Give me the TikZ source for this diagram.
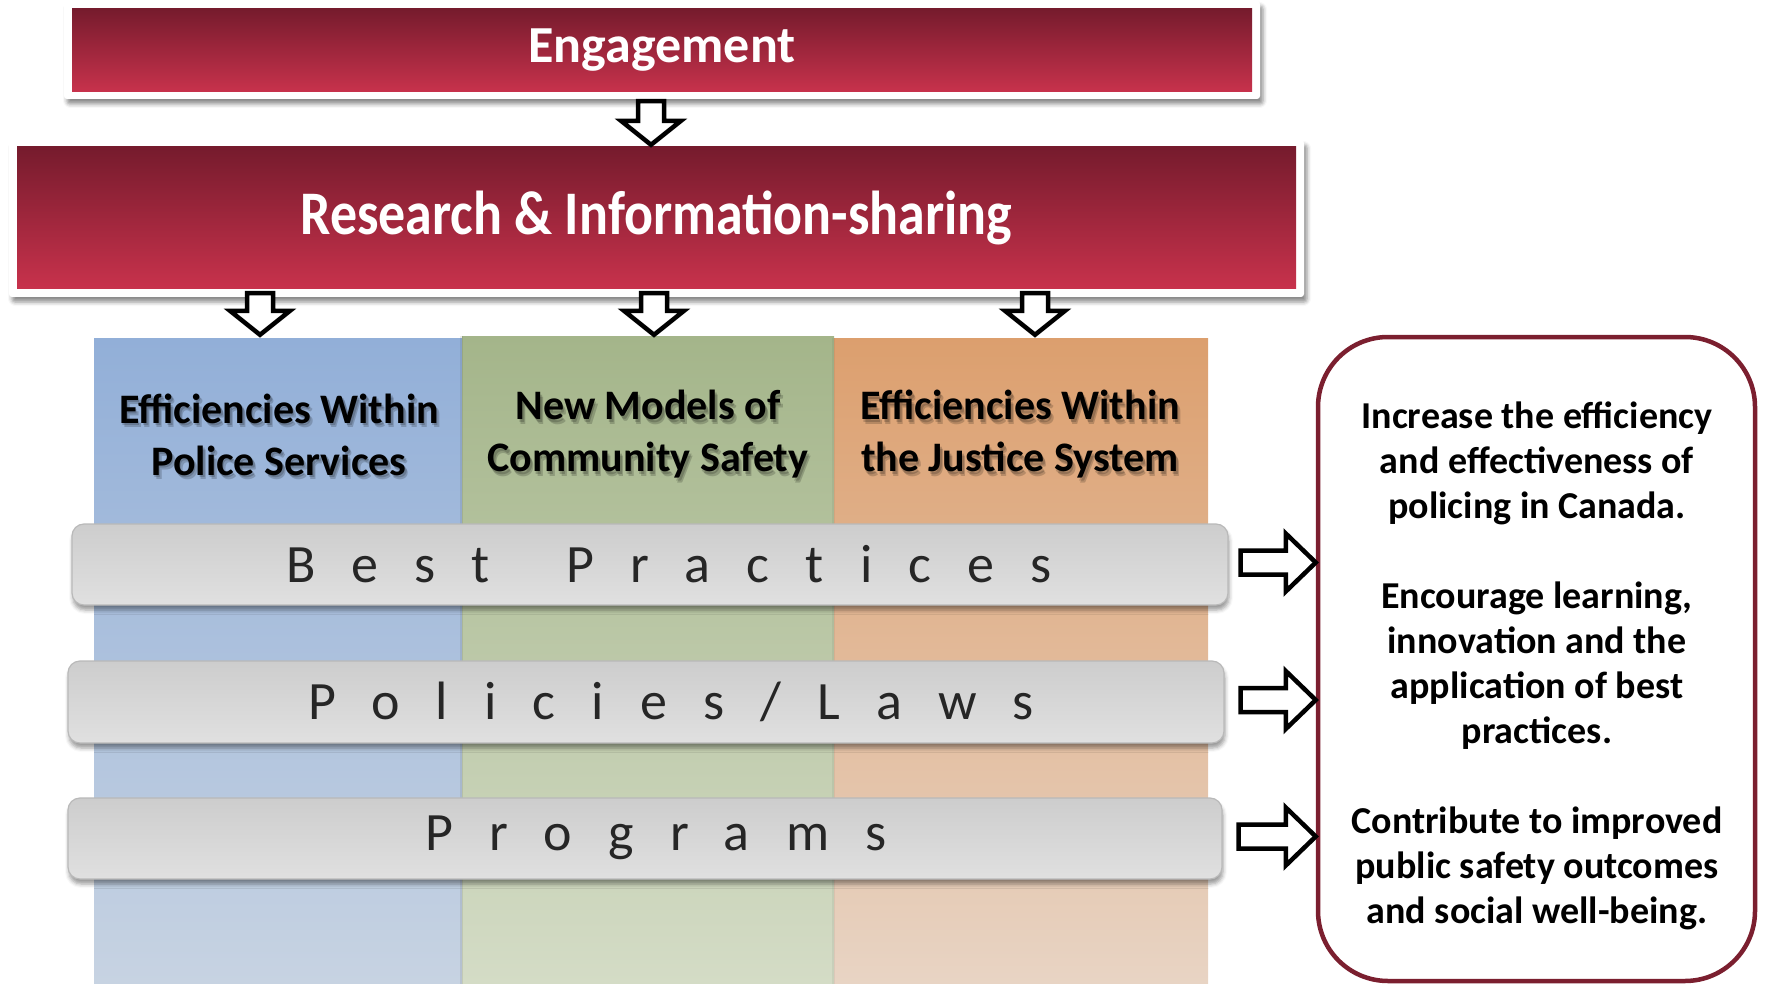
\documentclass[tikz,border=0pt]{standalone}
\usepackage{fontspec}
\setmainfont{Carlito}
\newfontfamily\barfont[LetterSpace=67, Ligatures=NoCommon]{Carlito}
\newfontfamily\titlefont[FakeStretch=0.87]{Carlito}
\usetikzlibrary{calc,shadows.blur}
\definecolor{redtop}{HTML}{761B2D}
\definecolor{redbot}{HTML}{C8324C}
\definecolor{bluetop}{HTML}{92AFD8}
\definecolor{bluebot}{HTML}{C7D3E2}
\definecolor{greentop}{HTML}{A4B58A}
\definecolor{greenbot}{HTML}{D4DCC6}
\definecolor{orangetop}{HTML}{DC9F6E}
\definecolor{orangebot}{HTML}{E8D4C4}
\definecolor{bartop}{HTML}{CDCDCD}
\definecolor{barbot}{HTML}{E0E0E0}
\definecolor{goalred}{HTML}{7B1F2F}
\newcommand\varrow[2]{\draw[blockarr] let \p1=(#1), \p2=(#2) in
  (\x1-13pt,\y1) -- (\x1+13pt,\y1) -- (\x1+13pt,\y2+24pt) -- (\x1+30pt,\y2+24pt)
  -- (\x1,\y2) -- (\x1-30pt,\y2+24pt) -- (\x1-13pt,\y2+24pt) -- cycle;}
\newcommand\harrow[2]{\draw[blockarr] let \p1=(#1), \p2=(#2) in
  (\x1,\y1+12pt) -- (\x2-30pt,\y1+12pt) -- (\x2-30pt,\y1+29pt) -- (\x2,\y1)
  -- (\x2-30pt,\y1-29pt) -- (\x2-30pt,\y1-12pt) -- (\x1,\y1-12pt) -- cycle;}
\newcommand\hdrtext[3]{%
  \node[hdr, text=black, text opacity=0.18] (#1s1) at ($(#2)+(1.5,2.5)$) {#3};
  \node[hdr, text=black, text opacity=0.18] (#1s2) at ($(#2)+(3,4.5)$) {#3};
  \node[hdr, text=black] (#1) at (#2) {#3};}
\begin{document}
\begin{tikzpicture}[x=1pt,y=-1pt,
  wframe/.style={fill=white, rounded corners=3pt, inner sep=0pt,
    blur shadow={shadow xshift=3pt, shadow yshift=-5pt, shadow blur radius=4pt, shadow opacity=45}},
  redbox/.style={top color=redtop, bottom color=redbot, draw=none, inner sep=0pt, text=white, font=\bfseries},
  col/.style={inner sep=0pt, draw=none},
  bar/.style={rounded corners=12pt, top color=bartop, bottom color=barbot, draw=gray!55, line width=1.2pt, inner sep=0pt,
    blur shadow={shadow xshift=1pt, shadow yshift=-5pt, shadow blur radius=4pt, shadow opacity=40}},
  bartext/.style={font=\barfont\fontsize{54}{60}\selectfont, text=black!85, inner sep=0pt},
  hdr/.style={font=\bfseries\fontsize{42}{52}\selectfont, align=center, inner sep=0pt},
  blockarr/.style={draw=black, fill=white, line width=4.5pt, line join=miter},
  goalbox/.style={draw=goalred, line width=4.5pt, rounded corners=70pt, fill=white, inner sep=0pt},
  goaltext/.style={align=center, font=\bfseries\fontsize{38}{45}\selectfont, inner sep=0pt}]
\path[use as bounding box] (0,0) rectangle (1767,984);
% columns
\node[col, top color=bluetop, bottom color=bluebot, minimum width=368pt, minimum height=646pt] (blue) at (278,661) {};
\node[col, top color=greentop, bottom color=greenbot, minimum width=372pt, minimum height=648pt] (green) at (648,660) {};
\node[col, top color=orangetop, bottom color=orangebot, minimum width=374pt, minimum height=646pt] (orange) at (1021,661) {};
\draw[black, opacity=0.08, line width=3pt] (green.north west) -- (green.south west);
\draw[black, opacity=0.05, line width=3pt] (orange.north west) -- (orange.south west);
\hdrtext{hb}{279,434.5}{Efficiencies Within\\Police Services}
\hdrtext{hg}{648,434.5}{New Models of\\Community Safety}
\hdrtext{ho}{1020,434.5}{Efficiencies Within\\the Justice System}
% bars
\node[bar, minimum width=1156pt, minimum height=81pt] (bp) at (650,564.5) {};
\node[bar, minimum width=1156pt, minimum height=82pt] (pl) at (646,702) {};
\node[bar, minimum width=1154pt, minimum height=81pt] (pg) at (645,838.5) {};
\node[bartext] (bpT) at (669,564) {Best\hspace{29pt} Practices};
\node[bartext] (plT) at (671,702) {Policies/Laws};
\node[bartext] (pgT) at (656,838) {Programs};
% top boxes
\node[wframe, minimum width=1196pt, minimum height=98pt] (engF) at (662,50) {};
\node[redbox, minimum width=1180pt, minimum height=83pt, font=\bfseries\fontsize{52}{60}\selectfont] (eng) at (662,50.5) {Engagement};
\node[wframe, minimum width=1295pt, minimum height=157pt] (resF) at (656.5,218.5) {};
\node[redbox, minimum width=1279pt, minimum height=142pt, font=\titlefont\bfseries\fontsize{62}{70}\selectfont] (res) at (656.5,218) {Research \& Information-sharing};
% goal box
\node[goalbox, minimum width=437pt, minimum height=644pt] (goal) at (1536.5,659) {};
\node[goaltext] (goalT) at (1537,666) {Increase the efficiency\\and effectiveness of\\policing in Canada.\\[45pt]Encourage learning,\\innovation and the\\application of best\\practices.\\[45pt]Contribute to improved\\public safety outcomes\\and social well-being.};
% arrows
\varrow{$(engF.south)+(-11,2)$}{$(resF.north)+(0,5)$}
\varrow{$(resF.south)+(-396.5,-4)$}{$(blue.north)+(0,-3)$}
\varrow{$(resF.south)+(-2.5,-4)$}{$(blue.north)+(0,-3)$}
\varrow{$(resF.south)+(378.5,-4)$}{$(blue.north)+(0,-3)$}
\harrow{$(bp.east)+(12,-2)$}{goal.west |- bp.east}
\harrow{$(pl.east)+(16,-2)$}{goal.west |- pl.east}
\harrow{$(pg.east)+(16,-2)$}{goal.west |- pg.east}
\end{tikzpicture}
\end{document}
